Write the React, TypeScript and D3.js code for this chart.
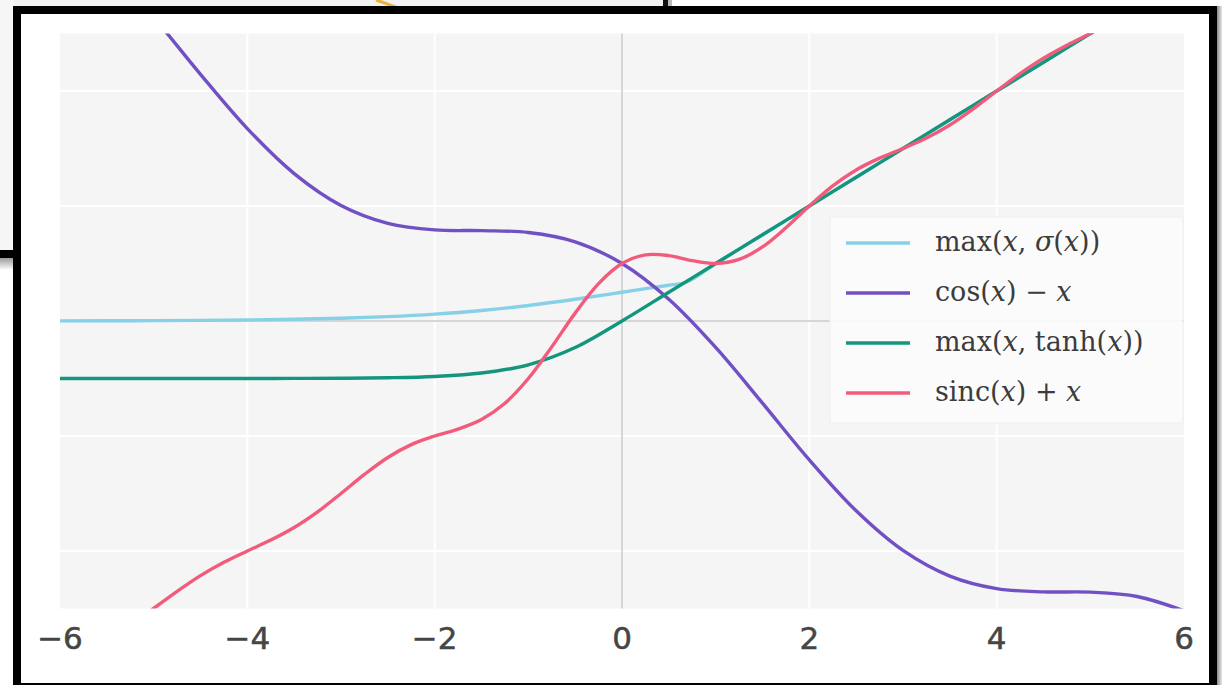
import React from "react";
import * as d3 from "d3";

// Sample positions shared by the smooth curves
const xGrid = [-6, -5.5, -5, -4.5, -4, -3.5, -3, -2.5, -2, -1.5, -1, -0.5, 0, 0.5, 1, 1.5, 2, 2.5, 3, 3.5, 4, 4.5, 5, 5.5, 6];

// max(x, σ(x)) — extra knot where the two branches meet
const sigmaXs = [-6, -5.5, -5, -4.5, -4, -3.5, -3, -2.5, -2, -1.5, -1, -0.5, 0, 0.25, 0.5, 0.659, 1, 1.5, 2, 2.5, 3, 3.5, 4, 4.5, 5, 5.5, 6];
const sigmaMax = [0.0025, 0.0041, 0.0067, 0.011, 0.018, 0.0293, 0.0474, 0.0759, 0.1192, 0.1824, 0.2689, 0.3775, 0.5, 0.5622, 0.6225, 0.659, 1, 1.5, 2, 2.5, 3, 3.5, 4, 4.5, 5, 5.5, 6];

// cos(x) − x
const cosMinusX = [6.96, 6.209, 5.284, 4.289, 3.346, 2.564, 2.01, 1.699, 1.584, 1.571, 1.54, 1.378, 1, 0.378, -0.46, -1.429, -2.416, -3.301, -3.99, -4.436, -4.654, -4.711, -4.716, -4.791, -5.04];

// max(x, tanh(x))
const tanhMax = [-1, -1, -0.9999, -0.9998, -0.9993, -0.9982, -0.9951, -0.9866, -0.964, -0.9052, -0.7616, -0.4621, 0, 0.5, 1, 1.5, 2, 2.5, 3, 3.5, 4, 4.5, 5, 5.5, 6];

// sinc(x) + x on a finer grid
const xFine = [-5.5, -5.25, -5, -4.75, -4.5, -4.25, -4, -3.75, -3.5, -3.25, -3, -2.75, -2.5, -2.25, -2, -1.75, -1.5, -1.25, -1, -0.75, -0.5, -0.25, 0, 0.25, 0.5, 0.75, 1, 1.25, 1.5, 1.75, 2, 2.25, 2.5, 2.75, 3, 3.25, 3.5, 3.75, 4, 4.25, 4.5, 4.75, 5, 5.25, 5.5];
const sincPlusX = [-5.558, -5.293, -5, -4.703, -4.429, -4.197, -4, -3.81, -3.591, -3.319, -3, -2.668, -2.373, -2.15, -2, -1.879, -1.712, -1.43, -1, -0.45, 0.137, 0.65, 1, 1.15, 1.137, 1.05, 1, 1.07, 1.288, 1.621, 2, 2.35, 2.627, 2.832, 3, 3.181, 3.409, 3.69, 4, 4.303, 4.571, 4.797, 5, 5.207, 5.442];

const xTicks = [-6, -4, -2, 0, 2, 4, 6];
const gridTicks = [-4, -2, 2, 4];

type Seg = { t: string; i?: boolean };
const legendItems: { color: string; label: Seg[] }[] = [
  { color: "#86d0e8", label: [{ t: "max(" }, { t: "x", i: true }, { t: ", " }, { t: "σ", i: true }, { t: "(" }, { t: "x", i: true }, { t: "))" }] },
  { color: "#7150c4", label: [{ t: "cos(" }, { t: "x", i: true }, { t: ") − " }, { t: "x", i: true }] },
  { color: "#14967d", label: [{ t: "max(" }, { t: "x", i: true }, { t: ", tanh(" }, { t: "x", i: true }, { t: "))" }] },
  { color: "#f25b7c", label: [{ t: "sinc(" }, { t: "x", i: true }, { t: ") + " }, { t: "x", i: true }] },
];

const W = 1222;
const H = 685;
const L = 60, R = 1184, T = 33.5, B = 608.5;

export default function App() {
  const x = d3.scaleLinear().domain([-6, 6]).range([L, R]);
  const y = d3.scaleLinear().domain([-5, 5]).range([B, T]);

  const mono = d3.line<[number, number]>().x((d) => x(d[0])).y((d) => y(d[1])).curve(d3.curveMonotoneX);
  const smooth = d3.line<[number, number]>().x((d) => x(d[0])).y((d) => y(d[1])).curve(d3.curveCatmullRom.alpha(0.5));

  const zip = (xs: number[], ys: number[]) => xs.map((v, i) => [v, ys[i]] as [number, number]);

  const paths = [
    { d: mono(zip(sigmaXs, sigmaMax)), c: legendItems[0].color },
    { d: smooth(zip(xGrid, cosMinusX)), c: legendItems[1].color },
    { d: mono(zip(xGrid, tanhMax)), c: legendItems[2].color },
    { d: smooth(zip(xFine, sincPlusX)), c: legendItems[3].color },
  ];

  const fmt = d3.format("d");

  const legX = 830, legY = 217, legW = 353, legH = 206;
  const rowY = (i: number) => 243 + i * 50;

  return (
    <svg width={W} height={H} style={{ position: "absolute", left: 0, top: 0, background: "#ffffff" }}>
      <defs>
        <clipPath id="plotClip">
          <rect x={L} y={T} width={R - L} height={B - T} />
        </clipPath>
        <linearGradient id="shade" x1="0" y1="0" x2="0" y2="1">
          <stop offset="0" stopColor="#9a9a9a" />
          <stop offset="1" stopColor="#ffffff" />
        </linearGradient>
        <linearGradient id="shadeR" x1="0" y1="0" x2="1" y2="0">
          <stop offset="0" stopColor="#8a8a8a" />
          <stop offset="1" stopColor="#e8e8e8" />
        </linearGradient>
      </defs>

      {/* desktop behind the window */}
      <rect x={0} y={0} width={668} height={8} fill="#f1f1f1" />
      <rect x={0} y={0} width={14} height={252} fill="#f6f6f6" />
      <path d="M376,0 Q388,4 398,8" stroke="#e8b33a" strokeWidth={3} fill="none" />
      <rect x={663} y={0} width={5} height={7} fill="#111" />
      <rect x={668} y={0} width={4} height={7} fill="#bbbbbb" />
      <rect x={0} y={250} width={14} height={8} fill="#000" />
      <rect x={0} y={258} width={14} height={12} fill="url(#shade)" />
      <rect x={1217} y={6} width={5} height={679} fill="url(#shadeR)" />

      {/* window frame */}
      <rect x={17} y={10} width={1196} height={677} fill="#ffffff" stroke="#000" strokeWidth={8} />

      {/* plot area */}
      <rect x={L} y={T} width={R - L} height={B - T} fill="#f5f5f6" />
      {gridTicks.map((t) => (
        <line key={"gx" + t} x1={x(t)} x2={x(t)} y1={T} y2={B} stroke="#ffffff" strokeWidth={2} />
      ))}
      {gridTicks.map((t) => (
        <line key={"gy" + t} x1={L} x2={R} y1={y(t)} y2={y(t)} stroke="#ffffff" strokeWidth={2} />
      ))}
      <line x1={x(0)} x2={x(0)} y1={T} y2={B} stroke="#d6d6d6" strokeWidth={2} />
      <line x1={L} x2={R} y1={y(0)} y2={y(0)} stroke="#d6d6d6" strokeWidth={2} />

      <g clipPath="url(#plotClip)">
        {paths.map((p, i) => (
          <path key={i} d={p.d ?? ""} fill="none" stroke={p.c} strokeWidth={3.4} strokeLinejoin="round" strokeLinecap="round" />
        ))}
      </g>

      {/* x tick labels */}
      {xTicks.map((t) => (
        <text key={"t" + t} x={x(t)} y={649} textAnchor="middle" fontFamily="DejaVu Sans" fontSize={31} fill="#454545" stroke="#454545" strokeWidth={0.5}>
          {fmt(t)}
        </text>
      ))}

      {/* legend */}
      <rect x={legX} y={legY} width={legW} height={legH} fill="#fbfbfb" fillOpacity={0.92} stroke="#efefef" strokeWidth={1} />
      {legendItems.map((it, i) => (
        <g key={"lg" + i}>
          <line x1={846} x2={910} y1={rowY(i)} y2={rowY(i)} stroke={it.color} strokeWidth={3.4} />
          <text x={935} y={rowY(i) + 8} fontFamily="DejaVu Serif" fontSize={27} fill="#3c3c3c">
            {it.label.map((s, k) => (
              <tspan key={k} fontStyle={s.i ? "italic" : "normal"}>
                {s.t}
              </tspan>
            ))}
          </text>
        </g>
      ))}
    </svg>
  );
}
